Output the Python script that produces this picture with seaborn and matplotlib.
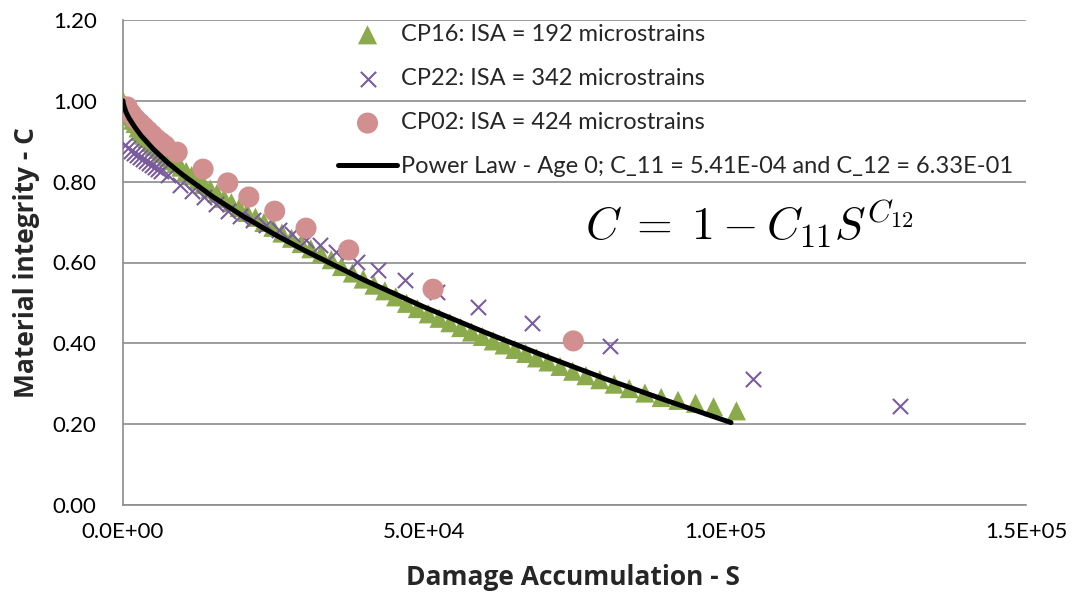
import matplotlib
matplotlib.use("Agg")
import matplotlib.pyplot as plt
from matplotlib.ticker import FuncFormatter
import seaborn as sns
import pandas as pd

# ---------------- data ----------------
cp16_label = "CP16: ISA = 192 microstrains"
cp16_s = [0, 400, 800, 1200, 1600, 2000, 2500, 3000, 3500, 4000, 4600, 5200, 5800,
          6500, 7200, 8000, 8800, 9600, 10500, 11400, 12400, 13400, 14500, 15600,
          16800, 18000, 19300, 20600, 22000, 23400, 24900, 26400, 28000, 29600,
          31200, 32900, 34600, 36300, 38100, 39900, 41700, 43500, 45300, 47100,
          48900, 50700, 52500, 54300, 56100, 57900, 59700, 61500, 63300, 65100,
          66900, 68700, 70600, 72600, 74700, 76900, 79200, 81600, 84100, 86700,
          89400, 92200, 95100, 98100, 101900]
cp16_c = [1.000, 0.986, 0.973, 0.962, 0.952, 0.944, 0.933, 0.924, 0.915, 0.907,
          0.897, 0.888, 0.880, 0.870, 0.861, 0.852, 0.845, 0.836, 0.825, 0.815,
          0.804, 0.793, 0.782, 0.771, 0.759, 0.748, 0.736, 0.724, 0.712, 0.699,
          0.687, 0.673, 0.660, 0.647, 0.634, 0.621, 0.607, 0.590, 0.574, 0.559,
          0.544, 0.530, 0.515, 0.499, 0.486, 0.473, 0.462, 0.451, 0.439, 0.428,
          0.417, 0.406, 0.396, 0.385, 0.375, 0.364, 0.354, 0.343, 0.331, 0.320,
          0.310, 0.299, 0.288, 0.277, 0.266, 0.259, 0.252, 0.243, 0.233]

cp22_label = "CP22: ISA = 342 microstrains"
cp22_s = [300, 800, 1300, 1800, 2300, 2800, 3300, 3800, 4300, 4800, 5300, 5800,
          6300, 7500, 9500, 11500, 13500, 15400, 17400, 19400, 21600, 23800,
          25900, 28100, 30400, 32700, 35400, 38900, 42400, 46800, 52200, 59000,
          67900, 80900, 104700, 129100]
cp22_c = [0.890, 0.883, 0.877, 0.871, 0.866, 0.861, 0.856, 0.851, 0.846, 0.841,
          0.837, 0.832, 0.827, 0.816, 0.792, 0.777, 0.762, 0.745, 0.727, 0.715,
          0.705, 0.693, 0.680, 0.670, 0.656, 0.643, 0.626, 0.601, 0.581, 0.557,
          0.527, 0.490, 0.450, 0.393, 0.312, 0.245]

cp02_label = "CP02: ISA = 424 microstrains"
cp02_s = [700, 1400, 2100, 2800, 3500, 4200, 4900, 5600, 6300, 7000, 9000,
          13300, 17400, 20900, 25200, 30400, 37500, 51500, 74800]
cp02_c = [0.985, 0.968, 0.955, 0.945, 0.935, 0.925, 0.915, 0.905, 0.897, 0.889,
          0.873, 0.831, 0.797, 0.762, 0.727, 0.685, 0.631, 0.534, 0.406]

fit_label = "Power Law - Age 0; C_11 = 5.41E-04 and C_12 = 6.33E-01"
fit_s = [0, 30, 100, 200, 500, 1000, 2000, 3000, 5000, 7500, 10000, 15000, 20000,
         25000, 30000, 40000, 50000, 60000, 70000, 80000, 90000, 100000, 101000]
fit_c = [1.000, 0.995, 0.990, 0.985, 0.972, 0.957, 0.934, 0.914, 0.881, 0.846,
         0.816, 0.762, 0.714, 0.671, 0.631, 0.557, 0.490, 0.428, 0.369, 0.313,
         0.260, 0.209, 0.204]

x_ticks = [0, 50000, 100000, 150000]
y_ticks = [0.0, 0.2, 0.4, 0.6, 0.8, 1.0, 1.2]

# ---------------- style ----------------
green = "#8AAA4B"
purple = "#7A5C9E"
pink = "#D28F8F"
grid_gray = "#8C8C8C"

sns.set_theme(style="white")
plt.rcParams["font.family"] = ["Lato", "DejaVu Sans"]
plt.rcParams["mathtext.fontset"] = "cm"

fig, ax = plt.subplots(figsize=(10.75, 5.92), dpi=100)
fig.subplots_adjust(left=123 / 1075, right=1026 / 1075,
                    top=1 - 20 / 592, bottom=1 - 505 / 592)

df16 = pd.DataFrame({"S": cp16_s, "C": cp16_c})
df22 = pd.DataFrame({"S": cp22_s, "C": cp22_c})
df02 = pd.DataFrame({"S": cp02_s, "C": cp02_c})
dffit = pd.DataFrame({"S": fit_s, "C": fit_c})

sns.scatterplot(data=df16, x="S", y="C", marker="^", s=190, color=green,
                edgecolor="none", linewidth=0, ax=ax, label=cp16_label, zorder=3)
sns.scatterplot(data=df22, x="S", y="C", marker="x", s=120, color=purple,
                linewidth=1.5, ax=ax, label=cp22_label, zorder=4)
sns.scatterplot(data=df02, x="S", y="C", marker="o", s=230, color=pink,
                edgecolor="none", linewidth=0, ax=ax, label=cp02_label, zorder=5)
sns.lineplot(data=dffit, x="S", y="C", color="black", linewidth=3.6,
             sort=False, ax=ax, label=fit_label, zorder=6)

ax.set_xlim(0, 150000)
ax.set_ylim(0, 1.2)
ax.set_xticks(x_ticks)
ax.set_yticks(y_ticks)
ax.xaxis.set_major_formatter(FuncFormatter(lambda v, p: f"{v:.1E}"))
ax.yaxis.set_major_formatter(FuncFormatter(lambda v, p: f"{v:.2f}"))
ax.tick_params(axis="both", length=0, labelsize=16, colors="black")
ax.tick_params(axis="y", pad=19)
ax.tick_params(axis="x", pad=12)

ax.yaxis.grid(True, color=grid_gray, linewidth=1.2)
ax.xaxis.grid(False)
ax.set_axisbelow(True)
for side in ["top", "right"]:
    ax.spines[side].set_visible(False)
for side in ["left", "bottom"]:
    ax.spines[side].set_color(grid_gray)
    ax.spines[side].set_linewidth(1.2)

lab_font = dict(fontsize=19, fontweight="bold", family=["Open Sans", "DejaVu Sans"])
ax.set_xlabel("Damage Accumulation - S", **lab_font)
ax.set_ylabel("Material integrity - C", **lab_font)
ax.xaxis.set_label_coords(0.498, -0.122)
ax.yaxis.set_label_coords(-0.092, 0.5)

ax.text(104000, 0.695, r"$C\;=\;1-C_{11}S^{C_{12}}$", fontsize=33,
        ha="center", va="center", color="black")

handles, labels = ax.get_legend_handles_labels()
leg = ax.legend(handles, labels, loc="upper left",
                bbox_to_anchor=(338 / 1075, 1 - 24 / 592),
                bbox_transform=fig.transFigure, frameon=False, fontsize=17,
                handlelength=2.5, handletextpad=0.15, labelspacing=0.98,
                borderpad=0, borderaxespad=0)

fig.savefig("out.png", dpi=100)
